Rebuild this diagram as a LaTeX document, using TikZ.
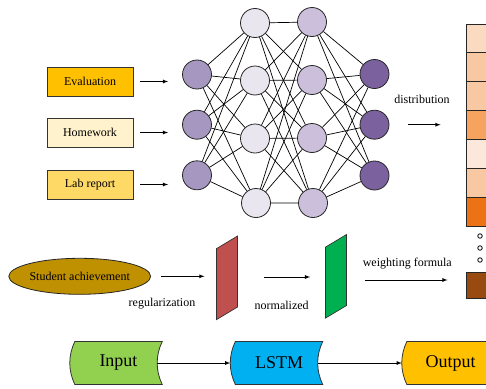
\documentclass[tikz,border=0pt]{standalone}
\usepackage{fontspec}
\setmainfont{Liberation Serif}
\usetikzlibrary{shapes.geometric,backgrounds}
\definecolor{evalc}{HTML}{FFC000}
\definecolor{homec}{HTML}{FFF2CC}
\definecolor{labc}{HTML}{FFD966}
\definecolor{inc}{HTML}{A697C1}
\definecolor{hac}{HTML}{EAE6F0}
\definecolor{hbc}{HTML}{CBBFDC}
\definecolor{outc}{HTML}{7B619E}
\definecolor{achc}{HTML}{BF9000}
\definecolor{regc}{HTML}{C0504D}
\definecolor{norc}{HTML}{00B050}
\definecolor{pa}{HTML}{FADBC2}
\definecolor{pb}{HTML}{F8C8A3}
\definecolor{pc}{HTML}{F5A35F}
\definecolor{pd}{HTML}{FBE8DA}
\definecolor{pe}{HTML}{EB7316}
\definecolor{wtc}{HTML}{984A10}
\definecolor{inpc}{HTML}{92D050}
\definecolor{lstmc}{HTML}{00B0F0}
\begin{document}
\begin{tikzpicture}
			[x=1pt,y=-1pt,>=latex,font=\fontsize{12}{14}\selectfont,
			box/.style={draw=black!80,line width=0.9pt,minimum width=86pt,minimum height=29pt,inner sep=0pt},
			neuron/.style={circle,draw=black!85,line width=0.8pt,minimum size=29pt,inner sep=0pt},
			edge/.style={line width=0.7pt},
			cell/.style={draw=black!85,line width=0.9pt,minimum width=40pt,minimum height=28.86pt,inner sep=0pt},
			dot/.style={circle,draw,line width=0.8pt,inner sep=1.6pt},
			para/.style={draw=black!80,line width=0.7pt,minimum width=21pt,minimum height=71pt,inner sep=0pt,yslant=0.6},
			flow/.style={minimum width=87pt,minimum height=42.5pt,inner sep=0pt,font=\fontsize{18}{20}\selectfont},
			arr/.style={->,line width=0.8pt}]
			\useasboundingbox(0,0)rectangle(486,388);
			\clip(0,0)rectangle(486,388);
			% inputs
			\node[box,name=ev,fill=evalc]at(90,81.5){Evaluation};
			\node[box,name=hw,fill=homec]at(90,132.5){Homework};
			\node[box,name=lr,fill=labc]at(90,184.5){Lab report};
			% network
			\node[neuron,name=in1,fill=inc]at(197,74.5){};
			\node[neuron,name=in2,fill=inc]at(197,124.7){};
			\node[neuron,name=in3,fill=inc]at(197,175.3){};
			\node[neuron,name=ha1,fill=hac]at(255,23){};
			\node[neuron,name=ha2,fill=hac]at(255,80.5){};
			\node[neuron,name=ha3,fill=hac]at(255,138.5){};
			\node[neuron,name=ha4,fill=hac]at(256,203){};
			\node[neuron,name=hb1,fill=hbc]at(312,22){};
			\node[neuron,name=hb2,fill=hbc]at(312,80){};
			\node[neuron,name=hb3,fill=hbc]at(312,138){};
			\node[neuron,name=hb4,fill=hbc]at(313,203){};
			\node[neuron,name=out1,fill=outc]at(374.5,74){};
			\node[neuron,name=out2,fill=outc]at(374.5,124.7){};
			\node[neuron,name=out3,fill=outc]at(374.5,175.5){};
			\draw[edge](in1)--(ha1) (in1)--(ha2) (in1)--(ha3) (in1)--(ha4);
			\draw[edge](in2)--(ha1) (in2)--(ha2) (in2)--(ha3) (in2)--(ha4);
			\draw[edge](in3)--(ha1) (in3)--(ha2) (in3)--(ha3) (in3)--(ha4);
			\draw[edge](ha1)--(hb1) (ha1)--(hb2) (ha1)--(hb3) (ha1)--(hb4);
			\draw[edge](ha2)--(hb1) (ha2)--(hb2) (ha2)--(hb3) (ha2)--(hb4);
			\draw[edge](ha3)--(hb1) (ha3)--(hb2) (ha3)--(hb3) (ha3)--(hb4);
			\draw[edge](ha4)--(hb1) (ha4)--(hb2) (ha4)--(hb3) (ha4)--(hb4);
			\draw[edge](hb1)--(out1) (hb1)--(out2) (hb1)--(out3);
			\draw[edge](hb2)--(out1) (hb2)--(out2) (hb2)--(out3);
			\draw[edge](hb3)--(out1) (hb3)--(out2) (hb3)--(out3);
			\draw[edge](hb4)--(out1) (hb4)--(out2) (hb4)--(out3);
			\draw[arr,shorten <=7pt,shorten >=14pt](ev.east)--(ev.east-|in1.west);
			\draw[arr,shorten <=7pt,shorten >=14pt](hw.east)--(hw.east-|in2.west);
			\draw[arr,shorten <=7pt,shorten >=14pt](lr.east)--(lr.east-|in3.west);
			% distribution column
			\node[cell,name=p1,fill=pa]at(486,38.4){};
			\node[cell,name=p2,fill=pb]at(486,67.3){};
			\node[cell,name=p3,fill=pb]at(486,96.1){};
			\node[cell,name=p4,fill=pc]at(486,125){};
			\node[cell,name=p5,fill=pd]at(486,153.8){};
			\node[cell,name=p6,fill=pb]at(486,182.7){};
			\node[cell,name=p7,fill=pe]at(486,211.6){};
			\node[dot,name=dot1]at(480,236){};
			\node[dot,name=dot2]at(480,248){};
			\node[dot,name=dot3]at(480,260){};
			\node[cell,name=wt,fill=wtc,minimum height=26pt]at(486,285){};
			\node[name=dist]at(422,99){distribution};
			\draw[arr,shorten <=19pt,shorten >=25pt](out2.east)--(out2.east-|p4.west);
			% weighting
			\node[ellipse,draw=black!85,line width=0.8pt,fill=achc,minimum width=136pt,minimum height=36pt,inner sep=0pt,name=sa]at(79.7,276.3){Student achievement};
			\node[para,name=reg,fill=regc]at(227,277.8){};
			\node[para,name=nor,fill=norc]at(336,276.3){};
			\draw[arr,shorten <=10.3pt,shorten >=11.7pt](sa.east)--(sa.east-|reg.west);
			\draw[arr,shorten <=26pt,shorten >=15pt](reg.east|-0,277)--(nor.west|-0,277);
			\draw[arr,shorten <=18pt,shorten >=18pt](nor.east|-0,280)--(wt.west|-0,280);
			\node[name=regl]at(162,303.3){regularization};
			\node[name=norl]at(281.7,305){normalized};
			\node[name=wfl]at(407.3,263.3){weighting formula};
			% bottom flow
			\node[flow,name=inp]at(118.5,363){Input};
			\node[flow,name=lstm]at(279,363){LSTM};
			\node[flow,name=outp]at(450.5,363){Output};
			\begin{scope}[on background layer]
			\draw[fill=inpc,line width=0.8pt,draw=black!80](inp.north west)..controls+(-6.7,14)and+(-6.7,-14)..(inp.south west)--(inp.south east)..controls+(-6.7,-14)and+(-6.7,14)..(inp.north east)--cycle;
			\draw[fill=lstmc,line width=0.8pt,draw=black!80](lstm.north west)..controls+(-6.7,14)and+(-6.7,-14)..(lstm.south west)--(lstm.south east)..controls+(-6.7,-14)and+(-6.7,14)..(lstm.north east)--cycle;
			\draw[fill=evalc,line width=0.8pt,draw=black!80](outp.north west)..controls+(-6.7,14)and+(-6.7,-14)..(outp.south west)--(outp.south east)..controls+(-6.7,-14)and+(-6.7,14)..(outp.north east)--cycle;
			\end{scope}
			\draw[arr]([xshift=-5pt]inp.east)--([xshift=-5pt]lstm.west);
			\draw[arr]([xshift=-5pt]lstm.east)--([xshift=-5pt]outp.west);
		\end{tikzpicture}
\end{document}
